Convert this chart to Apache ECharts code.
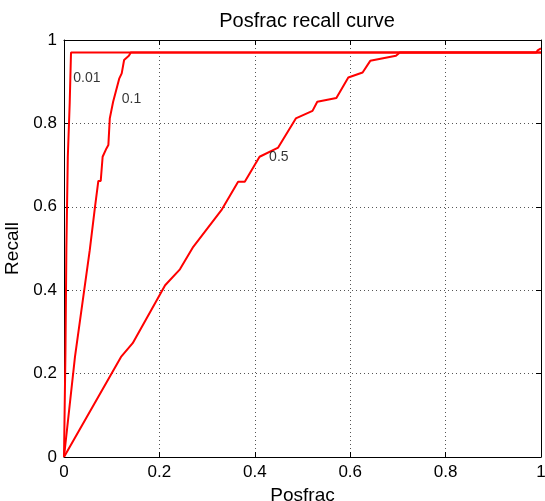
<!DOCTYPE html>
<html>
<head>
<meta charset="utf-8">
<script src="https://cdn.jsdelivr.net/npm/echarts@6/dist/echarts.min.js"></script>
<style>
  html, body { margin: 0; padding: 0; background: #fff; }
  #chart { width: 545px; height: 501px; }
</style>
</head>
<body>
<div id="chart"></div>
<script>
// Recall vs. positive fraction for three thresholds
const curveNames = ['0.01', '0.1', '0.5'];

const curve001 = [
  [0, 0], [0.003, 0.25], [0.005, 0.5], [0.008, 0.72], [0.012, 0.85],
  [0.0147, 0.97], [0.99, 0.97], [0.993, 0.975], [1, 0.98]
];

const curve01 = [
  [0, 0], [0.023, 0.24], [0.054, 0.496], [0.065, 0.6], [0.072, 0.662],
  [0.077, 0.662], [0.081, 0.72], [0.089, 0.74], [0.093, 0.748], [0.096, 0.812],
  [0.103, 0.852], [0.107, 0.856], [0.116, 0.908], [0.121, 0.92], [0.126, 0.952],
  [0.136, 0.962], [0.14, 0.97], [1, 0.97]
];

const curve05 = [
  [0, 0], [0.1195, 0.24], [0.144, 0.273], [0.212, 0.412], [0.243, 0.45],
  [0.271, 0.504], [0.33, 0.592], [0.365, 0.66], [0.379, 0.66], [0.41, 0.72],
  [0.449, 0.742], [0.486, 0.812], [0.521, 0.83], [0.531, 0.852], [0.571, 0.861],
  [0.596, 0.91], [0.626, 0.922], [0.642, 0.95], [0.696, 0.962], [0.704, 0.97],
  [1, 0.97]
];

const curves = [curve001, curve01, curve05];

// anchor (data coords) of each curve's threshold label
const labelAnchors = [[0.0195, 0.908], [0.121, 0.858], [0.43, 0.718]];

const FONT = 'Liberation Sans, Arial, Helvetica, sans-serif';

function axisCommon(extra) {
  return Object.assign({
    type: 'value', min: 0, max: 1, interval: 0.2,
    axisLine: { show: true, onZero: false, lineStyle: { color: '#000', width: 1 } },
    axisTick: { show: true, inside: true, length: 5, lineStyle: { color: '#000' } },
    splitLine: { show: false }
  }, extra);
}

const chart = echarts.init(document.getElementById('chart'), null, { renderer: 'canvas' });

const series = curves.map((d, i) => ({
  type: 'line',
  data: d,
  showSymbol: false,
  symbol: 'none',
  lineStyle: { color: '#ff0000', width: 2 },
  animation: false,
  z: 3
}));

series.push({
  type: 'scatter',
  data: labelAnchors.map((p, i) => ({ value: p, name: curveNames[i] })),
  symbolSize: 0,
  silent: true,
  animation: false,
  label: {
    show: true,
    position: 'right',
    distance: 0,
    formatter: p => p.name,
    color: '#000',
    fontSize: 14,
    fontFamily: FONT
  },
  z: 4
});

chart.setOption({
  backgroundColor: '#fff',
  animation: false,
  title: {
    text: 'Posfrac recall curve',
    left: 302,
    top: 6,
    textAlign: 'center',
    textStyle: { fontSize: 20, fontWeight: 'normal', color: '#000', fontFamily: FONT }
  },
  grid: { left: 64, right: 4, top: 40, bottom: 44, containLabel: false, outerBoundsMode: 'none' },
  xAxis: [
    axisCommon({
      position: 'bottom',
      name: 'Posfrac', nameLocation: 'middle', nameGap: 23,
      nameTextStyle: { fontSize: 19, color: '#000', fontFamily: FONT },
      axisLabel: { color: '#000', fontSize: 17, margin: 7, fontFamily: FONT },
      splitLine: { show: true, lineStyle: { color: '#555', type: [1, 3], width: 1 } }
    }),
    axisCommon({ position: 'top', axisLabel: { show: false } })
  ],
  yAxis: [
    axisCommon({
      position: 'left',
      name: 'Recall', nameLocation: 'middle', nameGap: 35,
      nameTextStyle: { fontSize: 19, color: '#000', fontFamily: FONT },
      axisLabel: { color: '#000', fontSize: 17, margin: 7, fontFamily: FONT },
      splitLine: { show: true, lineStyle: { color: '#555', type: [1, 3], width: 1 } }
    }),
    axisCommon({ position: 'right', axisLabel: { show: false } })
  ],
  series: series
});
</script>
</body>
</html>
